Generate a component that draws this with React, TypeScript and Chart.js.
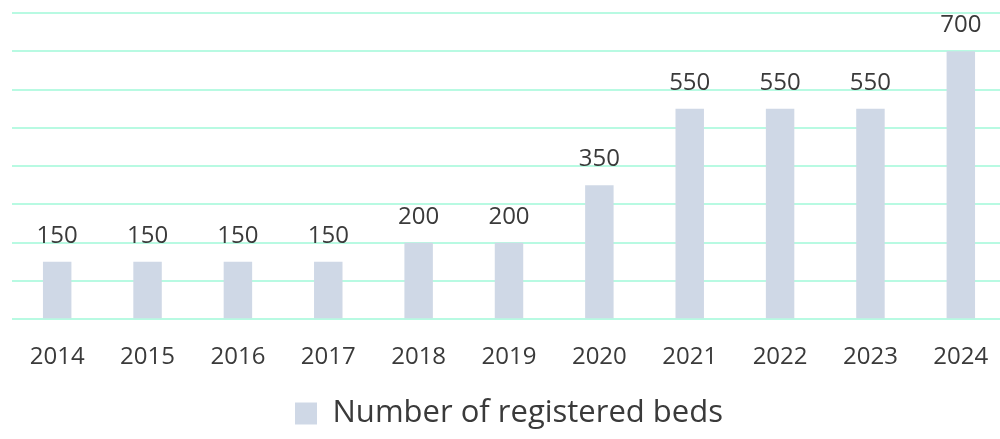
import React, { useEffect, useRef } from "react";
import { Chart, registerables } from "chart.js";

Chart.register(...registerables);

const categories = ["2014", "2015", "2016", "2017", "2018", "2019", "2020", "2021", "2022", "2023", "2024"];
const beds = [150, 150, 150, 150, 200, 200, 350, 550, 550, 550, 700];
const seriesName = "Number of registered beds";

const FONT = "'Open Sans', 'DejaVu Sans', sans-serif";
const TEXT = "#3A3A3A";

const valueLabels = {
  id: "valueLabels",
  afterDatasetsDraw(chart: any) {
    const ctx = chart.ctx;
    const meta = chart.getDatasetMeta(0);
    ctx.save();
    ctx.font = `24px ${FONT}`;
    ctx.fillStyle = TEXT;
    ctx.textAlign = "center";
    ctx.textBaseline = "alphabetic";
    meta.data.forEach((bar: any, i: number) => {
      ctx.fillText(String(chart.data.datasets[0].data[i]), bar.x, bar.y - 19);
    });
    ctx.restore();
  },
};

export default function App() {
  const ref = useRef<HTMLCanvasElement>(null);
  useEffect(() => {
    if (!ref.current) return;
    const chart = new Chart(ref.current, {
      type: "bar",
      data: {
        labels: categories,
        datasets: [
          {
            label: seriesName,
            data: beds,
            backgroundColor: "#CFD8E6",
            barPercentage: 0.315,
            categoryPercentage: 1,
          },
        ],
      },
      options: {
        animation: false,
        responsive: false,
        maintainAspectRatio: false,
        layout: { padding: { top: 13, left: 12, right: 0, bottom: 0 } },
        plugins: {
          tooltip: { enabled: false },
          legend: {
            position: "bottom",
            labels: {
              color: TEXT,
              font: { family: FONT, size: 31 },
              boxWidth: 22,
              boxHeight: 22,
              padding: 10,
            },
          },
        },
        scales: {
          x: {
            grid: { display: false },
            border: { display: false },
            ticks: { color: TEXT, font: { family: FONT, size: 24 }, padding: 16 },
          },
          y: {
            min: 0,
            max: 800,
            ticks: { display: false, stepSize: 100 },
            border: { display: false },
            grid: { color: "#B8FAE2", lineWidth: 2, drawTicks: false },
          },
        },
      },
      plugins: [valueLabels],
    });
    return () => chart.destroy();
  }, []);
  return (
    <div style={{ position: "fixed", left: 0, top: 0, width: 1000, height: 439, overflow: "hidden", background: "#fff" }}>
      <canvas ref={ref} width={1006} height={439} style={{ display: "block" }} />
    </div>
  );
}
